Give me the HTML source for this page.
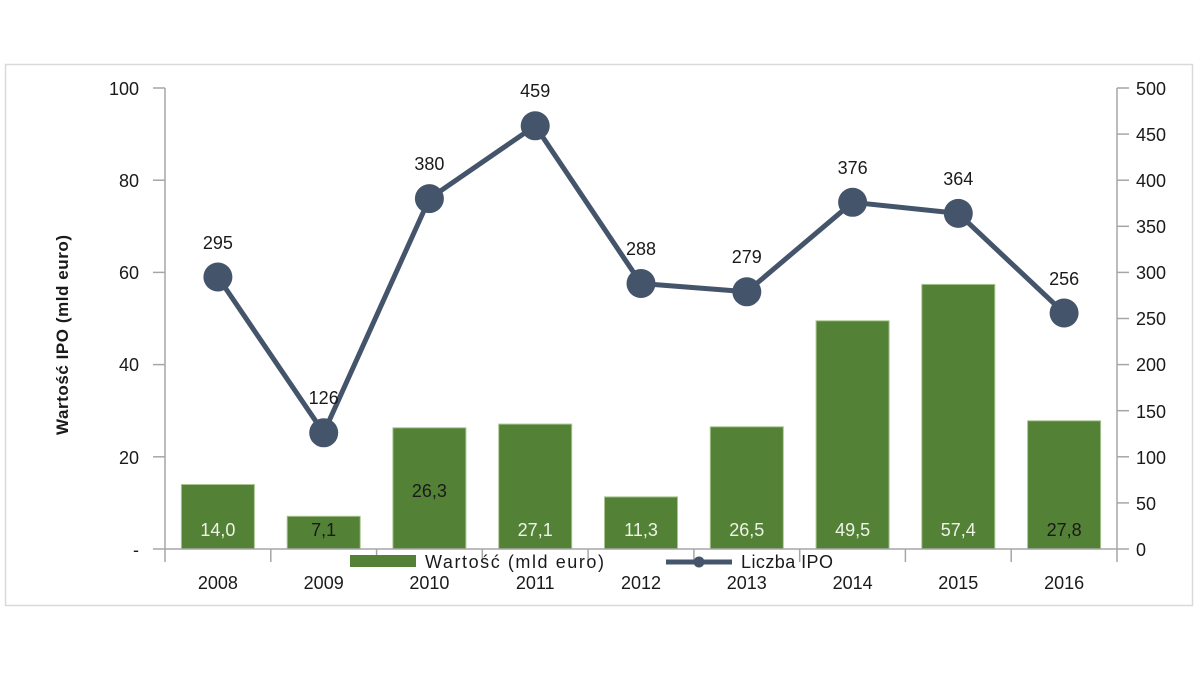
<!DOCTYPE html>
<html>
<head>
<meta charset="utf-8">
<style>
  html,body{margin:0;padding:0;background:#fff;}
  svg{display:block;}
  text{font-family:"Liberation Sans",Arial,sans-serif;font-size:18px;fill:#1a1a1a;}
</style>
</head>
<body>
<svg width="1200" height="675" viewBox="0 0 1200 675" xmlns="http://www.w3.org/2000/svg">
  <rect x="0" y="0" width="1200" height="675" fill="#fff"/>
  <rect x="5.5" y="64.5" width="1187" height="541" fill="#fff" stroke="#d9d9d9" stroke-width="1.5"/>

  <!-- bars -->
  <g fill="#538135" stroke="#a9c491" stroke-width="1">
    <rect x="181.4" y="484.5" width="73" height="64.5"/>
    <rect x="287.2" y="516.3" width="73" height="32.7"/>
    <rect x="392.9" y="427.8" width="73" height="121.2"/>
    <rect x="498.7" y="424.1" width="73" height="124.9"/>
    <rect x="604.5" y="496.9" width="73" height="52.1"/>
    <rect x="710.3" y="426.8" width="73" height="122.2"/>
    <rect x="816.1" y="320.8" width="73" height="228.2"/>
    <rect x="921.8" y="284.4" width="73" height="264.6"/>
    <rect x="1027.6" y="420.8" width="73" height="128.2"/>
  </g>

  <!-- axes -->
  <g stroke="#a6a6a6" stroke-width="1.5" fill="none">
    <line x1="165" y1="88" x2="165" y2="562"/>
    <line x1="1117" y1="88" x2="1117" y2="562"/>
    <line x1="153" y1="549" x2="1129" y2="549"/>
    <line x1="153" y1="88" x2="165" y2="88"/>
    <line x1="153" y1="180.2" x2="165" y2="180.2"/>
    <line x1="153" y1="272.4" x2="165" y2="272.4"/>
    <line x1="153" y1="364.6" x2="165" y2="364.6"/>
    <line x1="153" y1="456.8" x2="165" y2="456.8"/>
    <line x1="1117" y1="88" x2="1129" y2="88"/>
    <line x1="1117" y1="134.1" x2="1129" y2="134.1"/>
    <line x1="1117" y1="180.2" x2="1129" y2="180.2"/>
    <line x1="1117" y1="226.3" x2="1129" y2="226.3"/>
    <line x1="1117" y1="272.4" x2="1129" y2="272.4"/>
    <line x1="1117" y1="318.5" x2="1129" y2="318.5"/>
    <line x1="1117" y1="364.6" x2="1129" y2="364.6"/>
    <line x1="1117" y1="410.7" x2="1129" y2="410.7"/>
    <line x1="1117" y1="456.8" x2="1129" y2="456.8"/>
    <line x1="1117" y1="502.9" x2="1129" y2="502.9"/>
    <line x1="270.8" y1="549" x2="270.8" y2="562"/>
    <line x1="376.6" y1="549" x2="376.6" y2="562"/>
    <line x1="482.3" y1="549" x2="482.3" y2="562"/>
    <line x1="588.1" y1="549" x2="588.1" y2="562"/>
    <line x1="693.9" y1="549" x2="693.9" y2="562"/>
    <line x1="799.7" y1="549" x2="799.7" y2="562"/>
    <line x1="905.4" y1="549" x2="905.4" y2="562"/>
    <line x1="1011.2" y1="549" x2="1011.2" y2="562"/>
  </g>

  <!-- left tick labels -->
  <g text-anchor="end">
    <text x="139" y="95">100</text>
    <text x="139" y="187">80</text>
    <text x="139" y="279">60</text>
    <text x="139" y="371">40</text>
    <text x="139" y="464">20</text>
    <text x="139" y="556">-</text>
  </g>
  <!-- right tick labels -->
  <g text-anchor="start">
    <text x="1136" y="95">500</text>
    <text x="1136" y="141">450</text>
    <text x="1136" y="187">400</text>
    <text x="1136" y="233">350</text>
    <text x="1136" y="279">300</text>
    <text x="1136" y="325">250</text>
    <text x="1136" y="371">200</text>
    <text x="1136" y="418">150</text>
    <text x="1136" y="464">100</text>
    <text x="1136" y="510">50</text>
    <text x="1136" y="556">0</text>
  </g>

  <!-- y title -->
  <text transform="translate(68,335) rotate(-90)" text-anchor="middle" font-weight="bold" style="font-size:17px" textLength="200">Wartość IPO (mld euro)</text>

  <!-- x labels -->
  <g text-anchor="middle">
    <text x="217.9" y="589">2008</text>
    <text x="323.7" y="589">2009</text>
    <text x="429.4" y="589">2010</text>
    <text x="535.2" y="589">2011</text>
    <text x="641.0" y="589">2012</text>
    <text x="746.8" y="589">2013</text>
    <text x="852.6" y="589">2014</text>
    <text x="958.3" y="589">2015</text>
    <text x="1064.1" y="589">2016</text>
  </g>

  <!-- bar labels -->
  <g text-anchor="middle">
    <text x="217.9" y="536" style="fill:#eef3e8">14,0</text>
    <text x="323.7" y="536">7,1</text>
    <text x="429.4" y="497">26,3</text>
    <text x="535.2" y="536" style="fill:#eef3e8">27,1</text>
    <text x="641.0" y="536" style="fill:#eef3e8">11,3</text>
    <text x="746.8" y="536" style="fill:#eef3e8">26,5</text>
    <text x="852.6" y="536" style="fill:#eef3e8">49,5</text>
    <text x="958.3" y="536" style="fill:#eef3e8">57,4</text>
    <text x="1064.1" y="536">27,8</text>
  </g>

  <!-- line -->
  <polyline fill="none" stroke="#44546a" stroke-width="5" stroke-linejoin="round"
    points="217.9,277 323.7,432.8 429.4,198.6 535.2,125.8 641.0,283.5 746.8,291.8 852.6,202.3 958.3,213.4 1064.1,313"/>
  <g fill="#44546a">
    <circle cx="217.9" cy="277" r="14.5"/>
    <circle cx="323.7" cy="432.8" r="14.5"/>
    <circle cx="429.4" cy="198.6" r="14.5"/>
    <circle cx="535.2" cy="125.8" r="14.5"/>
    <circle cx="641.0" cy="283.5" r="14.5"/>
    <circle cx="746.8" cy="291.8" r="14.5"/>
    <circle cx="852.6" cy="202.3" r="14.5"/>
    <circle cx="958.3" cy="213.4" r="14.5"/>
    <circle cx="1064.1" cy="313" r="14.5"/>
  </g>
  <!-- line labels -->
  <g text-anchor="middle">
    <text x="217.9" y="249">295</text>
    <text x="323.7" y="404">126</text>
    <text x="429.4" y="170">380</text>
    <text x="535.2" y="97">459</text>
    <text x="641.0" y="255">288</text>
    <text x="746.8" y="263">279</text>
    <text x="852.6" y="174">376</text>
    <text x="958.3" y="185">364</text>
    <text x="1064.1" y="285">256</text>
  </g>

  <!-- legend -->
  <rect x="350" y="555" width="66" height="12" fill="#538135"/>
  <text x="425" y="568" textLength="179" lengthAdjust="spacing">Wartość (mld euro)</text>
  <line x1="666" y1="562" x2="732" y2="562" stroke="#44546a" stroke-width="5"/>
  <circle cx="699" cy="562" r="5.5" fill="#44546a"/>
  <text x="741" y="568" textLength="92" lengthAdjust="spacing">Liczba IPO</text>
</svg>
</body>
</html>
